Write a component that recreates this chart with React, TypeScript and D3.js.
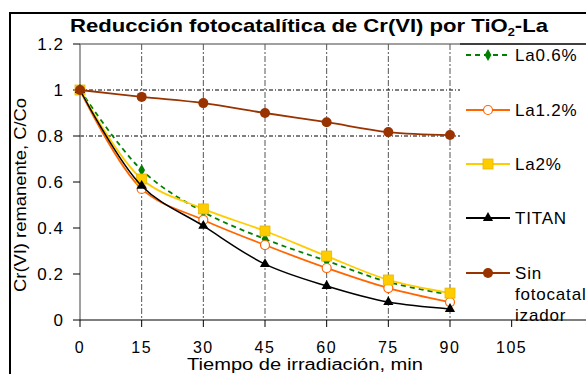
import React, { useRef, useEffect } from 'react';
import * as d3 from 'd3';

const times = [0, 15, 30, 45, 60, 75, 90];
const la06 = [1, 0.652, 0.47, 0.352, 0.257, 0.165, 0.11];
const la12 = [1, 0.57, 0.435, 0.326, 0.226, 0.139, 0.078];
const la2 = [1, 0.613, 0.483, 0.387, 0.278, 0.174, 0.117];
const titan = [1, 0.583, 0.409, 0.243, 0.148, 0.078, 0.048];
const sinCat = [1, 0.97, 0.943, 0.9, 0.86, 0.817, 0.804];
const xTicks = [0, 15, 30, 45, 60, 75, 90, 105];
const yTicks = [0, 0.2, 0.4, 0.6, 0.8, 1, 1.2];
const yGrid = [0.8, 1];
const seriesNames = ['La0.6%', 'La1.2%', 'La2%', 'TITAN', 'Sin fotocatalizador'];

const App = () => {
  const svgRef = useRef<SVGSVGElement>(null);

  useEffect(() => {
    const W = 586;
    const H = 374;
    const svg = d3.select(svgRef.current).attr('width', W).attr('height', H);
    svg.selectAll('*').remove();
    const font = 'Arial, "Liberation Sans", sans-serif';

    const x = d3.scaleLinear().domain([0, 90]).range([80, 450]);
    const y = d3.scaleLinear().domain([0, 1.2]).range([320, 44]);

    svg.append('rect').attr('width', W).attr('height', H).attr('fill', '#fff');

    // outer frame (right/bottom edges fall outside the picture)
    svg.append('rect')
      .attr('x', 10).attr('y', 13).attr('width', 600).attr('height', 400)
      .attr('fill', 'none').attr('stroke', '#000').attr('stroke-width', 2);

    // title
    const title = svg.append('text')
      .attr('x', 70).attr('y', 32)
      .attr('textLength', 478).attr('lengthAdjust', 'spacingAndGlyphs')
      .style('font-family', font).style('font-size', '19px').style('font-weight', 'bold');
    title.append('tspan').text('Reducción fotocatalítica de Cr(VI) por TiO');
    title.append('tspan').attr('dy', 4).style('font-size', '11px').text('2');
    title.append('tspan').attr('dy', -4).text('-La');

    // plot top border
    svg.append('line')
      .attr('x1', 80).attr('x2', 460).attr('y1', 44).attr('y2', 44)
      .attr('stroke', '#808080').attr('stroke-width', 1.5);

    // vertical grid
    svg.append('g').selectAll('line')
      .data(xTicks.filter((t) => t > 0))
      .join('line')
      .attr('x1', (d) => x(d)).attr('x2', (d) => x(d))
      .attr('y1', 44).attr('y2', 320)
      .attr('stroke', '#555').attr('stroke-width', 1)
      .attr('stroke-dasharray', '6,2,2,2');

    // horizontal grid
    svg.append('g').selectAll('line')
      .data(yGrid)
      .join('line')
      .attr('x1', 80).attr('x2', 460)
      .attr('y1', (d) => y(d)).attr('y2', (d) => y(d))
      .attr('stroke', '#000').attr('stroke-width', 1)
      .attr('stroke-dasharray', '4,2,1,2');

    // y axis
    svg.append('line')
      .attr('x1', 80).attr('x2', 80).attr('y1', 44).attr('y2', 320)
      .attr('stroke', '#808080').attr('stroke-width', 1.5);
    const yAx = svg.append('g');
    yAx.selectAll('line')
      .data(yTicks)
      .join('line')
      .attr('x1', 73).attr('x2', 80)
      .attr('y1', (d) => y(d)).attr('y2', (d) => y(d))
      .attr('stroke', '#000');
    yAx.selectAll('text')
      .data(yTicks)
      .join('text')
      .attr('x', 64).attr('y', (d) => y(d) + 6)
      .attr('text-anchor', 'end')
      .style('font-family', font).style('font-size', '17px').style('letter-spacing', '1px')
      .text((d) => d3.format('~g')(d));

    svg.append('text')
      .attr('transform', 'translate(26,195) rotate(-90)')
      .attr('text-anchor', 'middle')
      .attr('textLength', 194).attr('lengthAdjust', 'spacingAndGlyphs')
      .style('font-family', font).style('font-size', '16px')
      .text('Cr(VI) remanente, C/Co');

    // series
    const series = [
      { name: seriesNames[0], vals: la06, color: '#008000', dash: '5,4', marker: 'diamond' },
      { name: seriesNames[1], vals: la12, color: '#FF6600', dash: null, marker: 'circleOpen' },
      { name: seriesNames[2], vals: la2, color: '#FFCC00', dash: null, marker: 'square' },
      { name: seriesNames[3], vals: titan, color: '#000000', dash: null, marker: 'triangle' },
      { name: seriesNames[4], vals: sinCat, color: '#993300', dash: null, marker: 'circle' },
    ];

    const line = d3.line<number>()
      .x((d, i) => x(times[i]))
      .y((d) => y(d))
      .curve(d3.curveCatmullRom.alpha(0.5));

    const drawMarker = (g: any, type: string, color: string, cx: number, cy: number) => {
      if (type === 'diamond') {
        g.append('path')
          .attr('d', d3.symbol(d3.symbolDiamond, 40)())
          .attr('transform', `translate(${cx},${cy})`)
          .attr('fill', color);
      } else if (type === 'circleOpen') {
        g.append('circle').attr('cx', cx).attr('cy', cy).attr('r', 4.5)
          .attr('fill', '#fff').attr('stroke', color).attr('stroke-width', 1.2);
      } else if (type === 'square') {
        g.append('rect').attr('x', cx - 5).attr('y', cy - 5).attr('width', 10).attr('height', 10)
          .attr('fill', color).attr('stroke', '#E6B800').attr('stroke-width', 0.8);
      } else if (type === 'triangle') {
        g.append('path')
          .attr('d', d3.symbol(d3.symbolTriangle, 45)())
          .attr('transform', `translate(${cx},${cy})`)
          .attr('fill', color);
      } else {
        g.append('circle').attr('cx', cx).attr('cy', cy).attr('r', 5).attr('fill', color);
      }
    };

    series.forEach((s) => {
      const g = svg.append('g');
      g.append('path')
        .attr('d', line(s.vals))
        .attr('fill', 'none')
        .attr('stroke', s.color)
        .attr('stroke-width', s.name === 'TITAN' ? 1.5 : 1.8)
        .attr('stroke-dasharray', s.dash);
      s.vals.forEach((v, i) => drawMarker(g, s.marker, s.color, x(times[i]), y(v)));
    });

    // legend box (covers right part of plot)
    svg.append('rect')
      .attr('x', 460).attr('y', 44).attr('width', 140).attr('height', 275)
      .attr('fill', '#fff');
    svg.append('line')
      .attr('x1', 460).attr('x2', W).attr('y1', 44).attr('y2', 44)
      .attr('stroke', '#000').attr('stroke-width', 1.5);

    // x axis
    svg.append('line')
      .attr('x1', 80).attr('x2', W).attr('y1', 320).attr('y2', 320)
      .attr('stroke', '#000').attr('stroke-width', 1.2);
    const xAx = svg.append('g');
    xAx.selectAll('line')
      .data(xTicks)
      .join('line')
      .attr('x1', (d) => x(d)).attr('x2', (d) => x(d))
      .attr('y1', 320).attr('y2', 327)
      .attr('stroke', '#000');
    xAx.selectAll('text')
      .data(xTicks)
      .join('text')
      .attr('x', (d) => x(d)).attr('y', 353)
      .attr('text-anchor', 'middle')
      .style('font-family', font).style('font-size', '16px').style('letter-spacing', '1.5px')
      .text((d) => d);
    svg.append('text')
      .attr('x', 187).attr('y', 370)
      .attr('textLength', 236).attr('lengthAdjust', 'spacingAndGlyphs')
      .style('font-family', font).style('font-size', '16px')
      .text('Tiempo de irradiación, min');

    // legend entries
    const legY = [55, 110, 164, 218, 273];
    series.forEach((s, i) => {
      const g = svg.append('g');
      const ly = legY[i];
      g.append('line')
        .attr('x1', 466).attr('x2', 510).attr('y1', ly).attr('y2', ly)
        .attr('stroke', s.color).attr('stroke-width', 1.8)
        .attr('stroke-dasharray', s.dash);
      drawMarker(g, s.marker, s.color, 488, ly);
      const lines = i === 4 ? ['Sin', 'fotocatal', 'izador'] : [s.name];
      lines.forEach((t, j) => {
        g.append('text')
          .attr('x', 515).attr('y', ly + 6 + j * 21)
          .style('font-family', font).style('font-size', '17px').style('letter-spacing', '0.8px')
          .text(t);
      });
    });
  }, []);

  return (
    <div style={{ position: 'absolute', left: 0, top: 0 }}>
      <svg ref={svgRef} style={{ display: 'block' }}></svg>
    </div>
  );
};

export default App;
